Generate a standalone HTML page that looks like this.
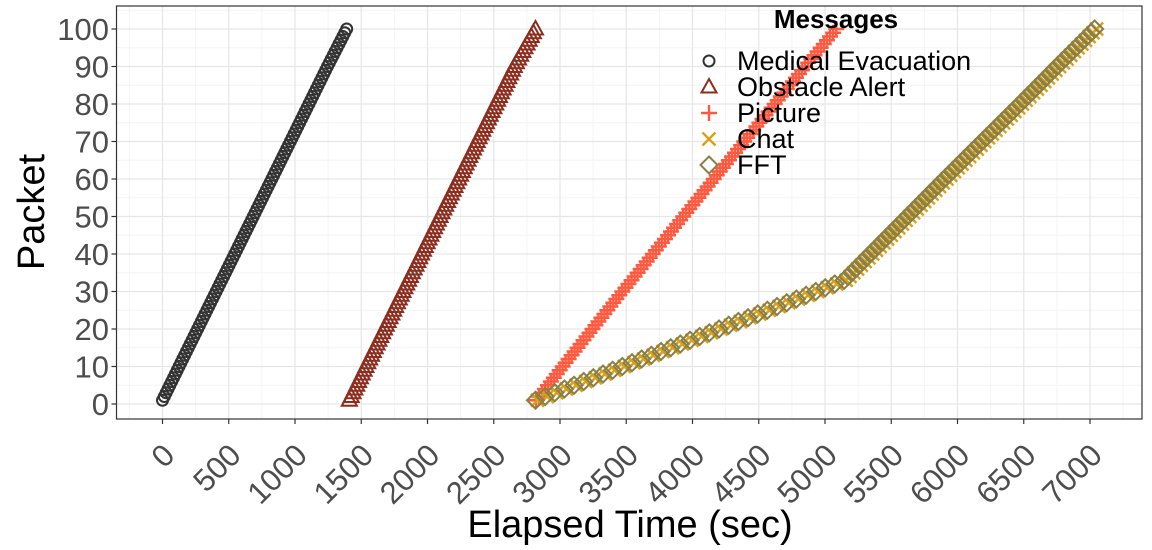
<!DOCTYPE html>
<html><head><meta charset="utf-8"><style>
body{margin:0;background:#fff;}
svg{display:block;font-family:"Liberation Sans",sans-serif;}
</style></head><body>
<svg id="chart" width="1152" height="550" viewBox="0 0 1152 550" xmlns="http://www.w3.org/2000/svg">
<g id="grid"></g>
<g id="marks"></g>
<rect x="116.5" y="6" width="1025.5" height="413" fill="none" stroke="#333" stroke-width="1.2"/>
<g id="axes"></g>
<text transform="translate(44,212) rotate(-90)" text-anchor="middle" font-size="38" fill="#000">Packet</text>
<text x="630" y="537" text-anchor="middle" font-size="38" fill="#000">Elapsed Time (sec)</text>
<g id="legend"></g>
</svg>
<script>
const xTicks=[0,500,1000,1500,2000,2500,3000,3500,4000,4500,5000,5500,6000,6500,7000];
const yTicks=[0,10,20,30,40,50,60,70,80,90,100];
const seriesNames=["Medical Evacuation","Obstacle Alert","Picture","Chat","FFT"];
const anchorPackets=[1,10,20,30,33,40,50,60,70,80,90,100];
const medicalTimes=[0,125,265,405,447,545,685,825,965,1105,1245,1390];
const obstacleTimes=[1410,1535,1675,1815,1857,1955,2095,2235,2375,2515,2655,2815];
const pictureTimes=[2820,3020,3245,3470,3540,3700,3930,4160,4390,4620,4850,5085];
const chatTimes=[2830,3485,4215,4945,5160,5360,5640,5920,6205,6490,6770,7050];
const fftTimes=[2815,3470,4200,4930,5145,5340,5620,5900,6185,6470,6750,7035];
const sx=v=>162.5+v*0.1325;
const sy=v=>404-v*3.75;
const NS="http://www.w3.org/2000/svg";
function mk(tag,attrs,parent){const e=document.createElementNS(NS,tag);for(const k in attrs)e.setAttribute(k,attrs[k]);parent.appendChild(e);return e;}
const grid=document.getElementById('grid'),axes=document.getElementById('axes'),marks=document.getElementById('marks'),legend=document.getElementById('legend');
mk('rect',{x:116.5,y:6,width:1025.5,height:413,fill:'#fff'},grid);
for(let i=0;i<=xTicks.length;i++){
  const v=i*500;
  const m=mk('line',{x1:sx(v-250),x2:sx(v-250),y1:6,y2:419,stroke:'#f4f4f4','stroke-width':1},grid);
  
}
for(let i=0;i<yTicks.length;i++){
  const v=yTicks[i];
  const m=mk('line',{x1:116.5,x2:1142,y1:sy(v+5),y2:sy(v+5),stroke:'#f4f4f4','stroke-width':1},grid);
  
}
xTicks.forEach(v=>{
  const g=mk('line',{x1:sx(v),x2:sx(v),y1:6,y2:419,stroke:'#e6e6e6','stroke-width':1.2},grid);
  
  mk('line',{x1:sx(v),x2:sx(v),y1:419,y2:424,stroke:'#333','stroke-width':1.2},axes);
  const t=mk('text',{transform:`translate(${sx(v)+14},${457}) rotate(-45)`,'text-anchor':'end','font-size':31,fill:'#4d4d4d'},axes);
  t.textContent=v;
  
});
yTicks.forEach(v=>{
  const g=mk('line',{x1:116.5,x2:1142,y1:sy(v),y2:sy(v),stroke:'#e6e6e6','stroke-width':1.2},grid);
  
  mk('line',{x1:111.5,x2:116.5,y1:sy(v),y2:sy(v),stroke:'#333','stroke-width':1.2},axes);
  const t=mk('text',{x:109,y:sy(v)+11,'text-anchor':'end','font-size':31,fill:'#4d4d4d'},axes);
  t.textContent=v;
  
});
const colors=["#333333","#8b2e1f","#ff5a40","#d9a11a","#8a7f45"];
function marker(kind,x,y,parent,col){
  const r=6.5;
  if(kind===0)return mk('circle',{cx:x,cy:y,r:5.5,fill:'none',stroke:col,'stroke-width':2},parent);
  if(kind===1)return mk('path',{d:`M${x},${y-8}L${x+7.5},${y+5.5}L${x-7.5},${y+5.5}Z`,fill:'none',stroke:col,'stroke-width':2},parent);
  if(kind===2)return mk('path',{d:`M${x-8},${y}H${x+8}M${x},${y-8}V${y+8}`,stroke:col,'stroke-width':2.4},parent);
  if(kind===3)return mk('path',{d:`M${x-r},${y-r}L${x+r},${y+r}M${x-r},${y+r}L${x+r},${y-r}`,stroke:col,'stroke-width':2.4},parent);
  return mk('path',{d:`M${x},${y-8.5}L${x+8.5},${y}L${x},${y+8.5}L${x-8.5},${y}Z`,fill:'none',stroke:col,'stroke-width':2},parent);
}
function timeAt(times,p){
  for(let i=0;i<anchorPackets.length-1;i++){
    if(p<=anchorPackets[i+1]){const a=anchorPackets[i],b=anchorPackets[i+1];return times[i]+(times[i+1]-times[i])*(p-a)/(b-a);}
  }
  return times[times.length-1];
}
const allTimes=[medicalTimes,obstacleTimes,pictureTimes,chatTimes,fftTimes];
allTimes.forEach((times,si)=>{
  const g=mk('g',{},marks);
  
  
  for(let p=1;p<=100;p++){
    const el=marker(si,sx(timeAt(times,p)),sy(p),g,colors[si]);
    
    
  }
});
const lt=mk('text',{x:836,y:28,'text-anchor':'middle','font-size':26,'font-weight':'bold',fill:'#000'},legend);
lt.textContent="Messages";

seriesNames.forEach((n,i)=>{
  const y=61+i*26;
  const g=mk('g',{},legend);
  
  marker(i,709,y,g,colors[i]);
  const t=mk('text',{x:737,y:y+9,'font-size':27,fill:'#000'},g);
  t.textContent=n;
});
</script>
</body></html>
